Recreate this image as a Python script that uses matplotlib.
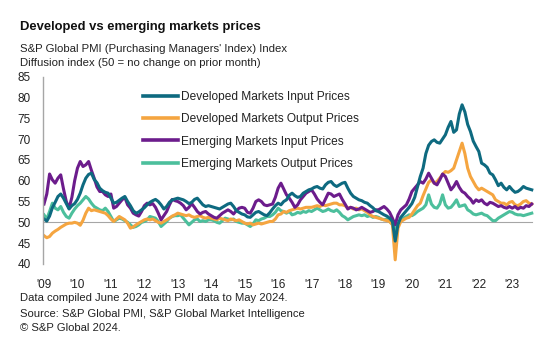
import matplotlib
matplotlib.use("Agg")
import matplotlib.pyplot as plt
import numpy as np

plt.rcParams['font.family'] = ['Liberation Sans', 'DejaVu Sans']

start_year = 2009
tick_years = list(range(2009, 2024))
tick_labels = ["'%02d" % (y % 100) for y in tick_years]
y_ticks = [40, 45, 50, 55, 60, 65, 70, 75, 80, 85]

dev_input = [
    50.8, 50.3, 51.5, 53.5, 54.8, 56.2, 56.8, 55.8, 54.5, 53.2, 54.0, 54.5,
    55.5, 57.0, 59.0, 60.6, 61.5, 61.8, 60.3, 59.5, 58.2, 57.6, 57.2, 57.0,
    55.8, 54.6, 54.8, 55.3, 55.8, 56.2, 55.0, 54.0, 52.8, 52.2, 52.5, 53.0,
    53.5, 54.2, 54.8, 55.2, 55.5, 55.0, 54.2, 53.2, 53.8, 54.8, 55.4, 55.6,
    55.8, 55.6, 55.4, 55.0, 54.5, 54.8, 55.5, 55.8, 55.0, 54.2, 53.8, 54.0,
    53.8, 53.6, 53.4, 53.2, 53.6, 54.0, 54.4, 54.6, 53.8, 52.8, 52.4, 52.0,
    51.8, 51.3, 51.2, 51.8, 52.4, 52.6, 52.2, 51.8, 51.6, 52.3, 53.2, 54.0,
    54.6, 54.2, 55.0, 55.4, 56.5, 57.0, 56.4, 56.0, 56.2, 57.0, 57.4, 57.8,
    58.0, 58.4, 58.6, 58.2, 58.0, 59.0, 59.6, 59.8, 59.0, 58.6, 59.0, 59.4,
    59.6, 58.2, 57.0, 56.2, 55.8, 55.4, 55.2, 54.8, 54.6, 54.0, 53.5, 52.8,
    52.6, 52.2, 51.8, 51.5, 51.0, 50.2, 45.5, 49.5, 51.2, 52.0, 52.8, 53.6,
    54.5, 56.0, 58.5, 61.0, 63.0, 66.5, 68.5, 69.4, 69.8, 69.2, 69.0, 70.0,
    71.0, 72.8, 74.2, 71.6, 72.2, 76.0, 78.2, 76.5, 73.5, 71.8, 69.5, 68.2,
    67.0, 64.2, 63.8, 63.2, 61.8, 61.4, 60.2, 58.8, 59.4, 58.4, 57.8, 58.6,
    57.8, 57.2, 57.4, 57.9, 58.6, 58.2, 58.0, 57.8,
]

dev_output = [
    46.8, 46.3, 46.6, 47.4, 47.9, 48.3, 48.8, 49.2, 49.6, 49.8, 49.8, 50.0,
    49.8, 49.3, 50.5, 52.2, 53.4, 52.8, 53.0, 52.8, 52.6, 52.4, 52.2, 51.6,
    50.8, 50.2, 50.8, 51.4, 51.0, 50.6, 49.8, 48.6, 48.9, 49.4, 49.8, 50.2,
    50.6, 50.8, 50.6, 50.8, 50.4, 50.0, 49.8, 50.2, 50.6, 51.0, 51.5, 51.8,
    52.2, 52.0, 51.8, 51.6, 51.8, 51.4, 51.2, 51.4, 51.6, 51.2, 51.0, 51.2,
    51.0, 50.8, 50.6, 51.0, 50.8, 50.6, 50.4, 50.8, 50.6, 50.4, 50.6, 50.2,
    49.8, 49.6, 49.8, 49.4, 49.6, 49.8, 49.6, 49.8, 50.0, 50.2, 50.2, 50.8,
    51.8, 52.0, 52.6, 52.4, 52.8, 53.0, 53.2, 53.4, 53.2, 53.4, 53.6, 53.6,
    53.6, 53.8, 54.0, 53.8, 54.2, 54.0, 54.2, 54.4, 54.6, 54.6, 54.2, 54.2,
    54.0, 53.4, 53.6, 53.2, 53.4, 53.0, 53.2, 52.8, 52.4, 51.8, 51.4, 51.2,
    51.0, 50.8, 50.6, 50.4, 50.2, 49.4, 41.0, 48.6, 50.2, 50.6, 51.0, 51.2,
    52.0, 53.0, 54.0, 54.6, 56.4, 58.0, 59.6, 60.2, 59.4, 59.8, 60.6, 61.5,
    62.2, 62.0, 62.4, 63.0, 65.0, 67.0, 69.0, 66.5, 63.0, 61.0, 59.8, 58.6,
    57.8, 58.2, 57.8, 57.4, 57.0, 56.6, 55.4, 55.0, 54.6, 54.6, 54.2, 54.8,
    55.0, 54.2, 54.0, 54.4, 55.0, 55.2, 54.6, 54.4,
]

em_input = [
    54.4, 56.8, 61.6, 60.2, 59.4, 60.6, 61.4, 58.0, 55.0, 53.4, 56.0, 60.0,
    63.0, 64.6, 63.4, 63.8, 64.6, 62.5, 60.6, 58.5, 57.4, 57.4, 56.6, 56.2,
    56.8, 53.4, 53.8, 54.6, 55.4, 56.0, 54.2, 53.4, 52.2, 51.8, 51.5, 52.6,
    54.0, 54.6, 54.2, 54.5, 53.6, 52.2, 50.6, 51.6, 52.6, 54.2, 55.5, 55.2,
    55.0, 54.6, 54.0, 53.0, 53.6, 54.5, 53.6, 52.6, 52.0, 52.4, 52.6, 52.0,
    51.6, 51.2, 51.0, 51.6, 52.2, 52.6, 53.0, 52.6, 52.0, 52.8, 53.4, 53.6,
    53.4, 52.4, 52.2, 53.4, 55.0, 55.4, 55.0, 54.2, 54.0, 54.2, 54.4, 56.0,
    58.2, 59.4, 58.0, 56.6, 55.8, 54.8, 53.6, 54.2, 55.4, 56.2, 57.0, 57.4,
    57.8, 56.8, 55.6, 54.8, 54.2, 55.6, 57.0, 56.8, 56.2, 56.5, 56.8, 55.5,
    54.4, 53.2, 53.6, 53.4, 53.0, 53.2, 53.6, 53.2, 52.8, 52.4, 52.6, 53.0,
    53.0, 53.4, 53.8, 53.2, 52.4, 51.0, 49.4, 51.8, 53.0, 53.6, 54.2, 55.6,
    57.4, 58.2, 59.0, 59.8, 59.4, 60.4, 61.8, 60.6, 59.4, 59.0, 60.2, 61.6,
    61.0, 59.4, 57.8, 58.6, 59.8, 58.4, 57.4, 57.0, 56.2, 55.6, 54.6, 55.4,
    55.0, 55.4, 54.6, 54.2, 54.8, 54.6, 54.2, 53.8, 54.0, 53.6, 53.4, 53.8,
    53.4, 53.8, 53.2, 53.6, 53.4, 54.0, 53.8, 54.4,
]

em_output = [
    51.8, 50.8, 52.6, 54.6, 53.4, 53.0, 53.8, 52.4, 51.4, 51.0, 52.2, 53.2,
    54.0, 54.6, 55.4, 56.2, 55.6, 54.6, 53.8, 53.4, 53.0, 52.8, 53.4, 52.6,
    51.4, 50.2, 50.6, 51.0, 50.8, 50.4, 50.0, 49.4, 48.8, 49.0, 49.4, 50.0,
    50.2, 50.6, 51.4, 51.2, 51.0, 50.2, 49.0, 49.6, 50.2, 51.0, 51.4, 51.6,
    51.6, 51.8, 51.0, 50.2, 49.4, 50.0, 50.6, 50.8, 50.2, 50.4, 50.2, 50.6,
    50.6, 50.4, 50.0, 49.8, 50.4, 51.0, 50.8, 50.6, 50.8, 50.2, 50.0, 49.8,
    49.8, 49.4, 49.0, 49.6, 50.6, 50.4, 50.8, 51.0, 51.4, 51.4, 51.8, 52.4,
    53.4, 52.8, 52.6, 52.2, 52.6, 51.8, 52.0, 52.4, 52.2, 52.6, 52.4, 52.8,
    52.6, 53.0, 53.4, 53.0, 52.6, 52.8, 53.2, 52.8, 52.6, 53.0, 52.4, 51.6,
    51.2, 50.6, 51.0, 51.4, 51.6, 51.8, 51.6, 51.8, 51.4, 51.6, 51.2, 51.4,
    51.2, 50.8, 50.6, 50.8, 50.2, 49.6, 47.8, 49.8, 50.2, 51.0, 51.4, 51.8,
    51.6, 52.0, 52.6, 53.0, 53.4, 54.2, 56.6, 54.4, 53.6, 53.4, 54.4, 56.6,
    54.2, 53.4, 53.6, 54.4, 55.4, 53.8, 54.0, 54.2, 53.0, 52.6, 52.0, 51.8,
    52.0, 52.2, 51.8, 51.6, 51.0, 50.4, 50.4, 51.0, 51.4, 51.8, 52.2, 52.6,
    52.4, 52.0, 51.8, 51.8, 51.6, 51.8, 52.0, 52.2,
]

series_names = [
    "Developed Markets Input Prices",
    "Developed Markets Output Prices",
    "Emerging Markets Input Prices",
    "Emerging Markets Output Prices",
]
series_values = [dev_input, dev_output, em_input, em_output]
series_colors = ["#0e6a80", "#f5a540", "#6c1c8c", "#4cbf9c"]

n = len(dev_input)
x = start_year + np.arange(n) / 12.0

fig = plt.figure(figsize=(5.55, 3.56), dpi=100)
ax = fig.add_axes([43 / 555, 1 - 264 / 356, (534 - 43) / 555, (264 - 76.5) / 356])

ax.axhline(50, color="#a6a6a6", lw=0.8, zorder=1, xmax=0.995)
order = [3, 1, 2, 0]
lines = {}
for i in order:
    (ln,) = ax.plot(x, series_values[i], color=series_colors[i], lw=2.2,
                    solid_joinstyle="round", zorder=2)
    lines[i] = ln

ax.set_xlim(2008.97, 2023.65)
ax.set_ylim(40, 85)
ax.set_yticks(y_ticks)
ax.set_xticks(tick_years)
ax.set_xticklabels(tick_labels)
for s in ["top", "right", "bottom"]:
    ax.spines[s].set_visible(False)
ax.spines["left"].set_color("#a6a6a6")
ax.spines["left"].set_linewidth(1.0)
ax.tick_params(axis="both", length=0, labelsize=8.5, colors="#222222")
ax.tick_params(axis="y", pad=9)
ax.tick_params(axis="x", pad=11)

leg = ax.legend([lines[i] for i in range(4)], series_names,
                loc="upper left", bbox_to_anchor=(143 / 555, 1 - 91 / 356),
                bbox_transform=fig.transFigure, frameon=False,
                fontsize=8.6, handlelength=2.9, handletextpad=0.3,
                labelspacing=0.86, borderaxespad=0, borderpad=0)
for t in leg.get_texts():
    t.set_color("#222222")
for h in leg.get_lines():
    h.set_linewidth(2.6)

fig.text(20 / 555, 1 - 27 / 356, "Developed vs emerging markets prices",
         fontsize=9.4, fontweight="bold", va="center", ha="left", color="#111111")
fig.text(20 / 555, 1 - 49 / 356, "S&P Global PMI (Purchasing Managers' Index) Index",
         fontsize=8.2, va="center", ha="left", color="#222222")
fig.text(20 / 555, 1 - 63 / 356, "Diffusion index (50 = no change on prior month)",
         fontsize=8.2, va="center", ha="left", color="#222222")

footer = [
    "Data compiled June 2024 with PMI data to May 2024.",
    "Source: S&P Global PMI, S&P Global Market Intelligence",
    "\u00a9 S&P Global 2024.",
]
for txt, yy in zip(footer, [298, 314, 328]):
    fig.text(20 / 555, 1 - yy / 356, txt, fontsize=8.1, va="center", ha="left",
             color="#222222")

fig.savefig("out.png", dpi=100, facecolor="white")
